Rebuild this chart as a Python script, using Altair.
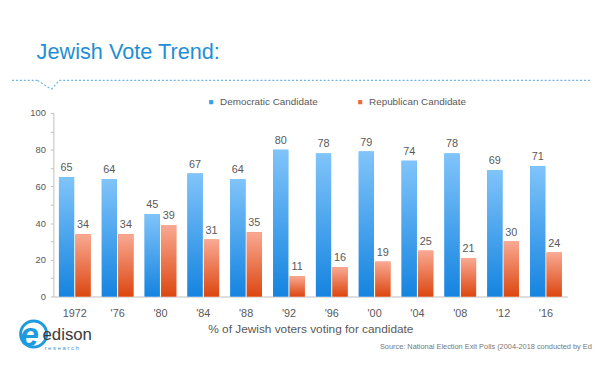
import altair as alt
import pandas as pd

years = ["1972", "'76", "'80", "'84", "'88", "'92", "'96", "'00", "'04", "'08", "'12", "'16"]
dem = [65, 64, 45, 67, 64, 80, 78, 79, 74, 78, 69, 71]
rep = [34, 34, 39, 31, 35, 11, 16, 19, 25, 21, 30, 24]
parties = ["Democratic Candidate", "Republican Candidate"]
y_ticks = [0, 10, 20, 30, 40, 50, 60, 70, 80, 90, 100]

title_text = "Jewish Vote Trend:"
x_title = "% of Jewish voters voting for candidate"
source_text = "Source:  National Election Exit Polls (2004-2018 conducted by Edison Research)"

rows = []
for i, yv in enumerate(years):
    rows.append({"year": yv, "party": parties[0], "value": dem[i]})
    rows.append({"year": yv, "party": parties[1], "value": rep[i]})
df = pd.DataFrame(rows)

GRAY = "#595959"
AXIS = "#bfbfbf"

xenc = alt.X("year:N", sort=years, title=x_title,
             scale=alt.Scale(paddingInner=0.26, paddingOuter=0.13),
             axis=alt.Axis(labelAngle=0, ticks=False, domainColor=AXIS, labelColor=GRAY,
                           labelFontSize=11, labelPadding=11, titleColor=GRAY, titleFontSize=12,
                           titleFontWeight="normal", titlePadding=5, labelFont="Liberation Sans",
                           titleFont="Liberation Sans"))
xoff = alt.XOffset("party:N", sort=parties, scale=alt.Scale(paddingInner=0.08))
yenc = alt.Y("value:Q", scale=alt.Scale(domain=[0, 100]), title=None,
             axis=alt.Axis(values=y_ticks, labelExpr="datum.value % 20 == 0 ? datum.label : ''",
                           grid=False, tickSize=3, tickColor=AXIS, domainColor=AXIS,
                           labelColor=GRAY, labelFontSize=9.5, labelPadding=5,
                           labelFont="Liberation Sans"))

base = alt.Chart(df)

legend_bars = base.mark_bar().encode(
    x=xenc, xOffset=xoff, y=yenc,
    color=alt.Color("party:N", sort=parties,
                    scale=alt.Scale(domain=parties, range=["#3d9ff0", "#ec6a3e"]),
                    legend=alt.Legend(title=None, orient="none", direction="horizontal",
                                      legendX=155, legendY=-16, symbolType="square",
                                      symbolSize=18, labelFontSize=10, labelColor=GRAY,
                                      columnPadding=38, labelFont="Liberation Sans")),
)

def grad(top, bottom):
    return alt.Gradient(gradient="linear",
                        stops=[alt.GradientStop(color=top, offset=0),
                               alt.GradientStop(color=bottom, offset=1)],
                        x1=0, x2=0, y1=0, y2=1)

dem_bars = base.transform_filter(alt.datum.party == parties[0]).mark_bar(
    fill=grad("#80c4fa", "#1584e0")).encode(x=xenc, xOffset=xoff, y=yenc)
rep_bars = base.transform_filter(alt.datum.party == parties[1]).mark_bar(
    fill=grad("#f9a993", "#dc4710")).encode(x=xenc, xOffset=xoff, y=yenc)

labels = base.mark_text(baseline="bottom", dy=-4, fontSize=11, color=GRAY,
                        font="Liberation Sans").encode(
    x=xenc, xOffset=xoff, y=yenc, text="value:Q")

tdf = pd.DataFrame({"t": [title_text]})
title = alt.Chart(tdf).mark_text(align="left", baseline="alphabetic", fontSize=22,
                                 color="#1f8fd5", font="Liberation Sans").encode(
    x=alt.value(-17), y=alt.value(-55), text="t:N")

sdf = pd.DataFrame({"t": [source_text]})
source = alt.Chart(sdf).mark_text(align="left", baseline="middle", fontSize=7.5,
                                  color="#777777", font="Liberation Sans").encode(
    x=alt.value(331), y=alt.value(237), text="t:N")

xl = pd.DataFrame({"t": ["edison"]})
edison = alt.Chart(xl).mark_text(align="left", baseline="alphabetic", fontSize=17,
                                 color="#3a3a3a", font="Liberation Sans").encode(
    x=alt.value(-11), y=alt.value(230), text="t:N")
rl = pd.DataFrame({"t": ["r e s e a r c h"]})
research = alt.Chart(rl).mark_text(align="left", baseline="alphabetic", fontSize=6,
                                   color="#3aa0dc", font="Liberation Sans").encode(
    x=alt.value(-9), y=alt.value(240), text="t:N")
el = pd.DataFrame({"t": ["e"]})
logo_e = alt.Chart(el).mark_text(align="center", baseline="middle", fontSize=34,
                                 color="#1e9be0", font="Liberation Sans", fontWeight="bold",
                                 fontStyle="italic").encode(
    x=alt.value(-24), y=alt.value(226), text="t:N")
ring = alt.Chart(el).mark_point(shape="circle", filled=False, stroke="#1e9be0",
                                strokeWidth=3, size=700, opacity=1).encode(
    x=alt.value(-20), y=alt.value(224))

dash = dict(color="#6fb3e0", strokeDash=[2, 2], strokeWidth=1.2)
d1 = alt.Chart(tdf).mark_rule(**dash).encode(x=alt.value(-42), x2=alt.value(-16),
                                             y=alt.value(-33), y2=alt.value(-33))
d2 = alt.Chart(tdf).mark_rule(**dash).encode(x=alt.value(-16), x2=alt.value(-2),
                                             y=alt.value(-33), y2=alt.value(-24))
d3 = alt.Chart(tdf).mark_rule(**dash).encode(x=alt.value(-2), x2=alt.value(6),
                                             y=alt.value(-24), y2=alt.value(-33))
d4 = alt.Chart(tdf).mark_rule(**dash).encode(x=alt.value(6), x2=alt.value(546),
                                             y=alt.value(-33), y2=alt.value(-33))

chart = alt.layer(legend_bars, dem_bars, rep_bars, labels, title, source,
                  ring, logo_e, edison, research, d1, d2, d3, d4).properties(
    width=521, height=186,
    autosize=alt.AutoSizeParams(type="none"),
    padding={"left": 46, "top": 104, "right": 25, "bottom": 68},
    background="white",
).configure_view(stroke=None)

chart.save("out.html", embed_options={"renderer": "svg", "actions": False})
